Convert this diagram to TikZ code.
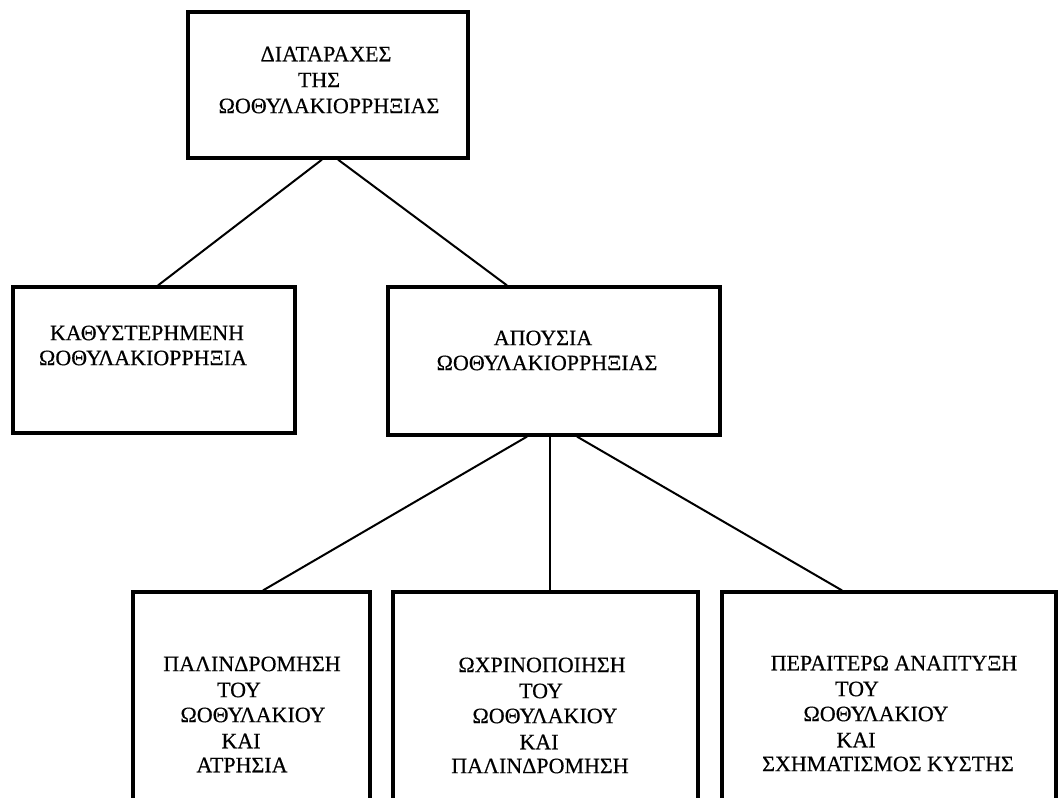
\documentclass[tikz,border=0pt]{standalone}
\usepackage{fontspec}
\setmainfont{Liberation Serif}[FakeBold=0.4]
\begin{document}
\begin{tikzpicture}[x=1pt,y=-1pt,
  box/.style={draw, line width=3.2pt, inner sep=0pt, minimum width=#1},
  conn/.style={draw, line width=2pt},
  txt/.style={inner sep=0pt, font=\fontsize{22}{26}\selectfont}]
\useasboundingbox (0,0) rectangle (1058,798);
\clip (0,0) rectangle (1058,798);
\fill[white] (0,0) rectangle (1058,798);
% boxes
\node[box=280, minimum height=146] (top) at (328,85) {};
\node[box=282, minimum height=146] (lft) at (154,360) {};
\node[box=332, minimum height=148] (mid) at (554,361) {};
\node[box=237, minimum height=212] (b1) at (251.5,698) {};
\node[box=305, minimum height=212] (b2) at (545.5,698) {};
\node[box=334, minimum height=212] (b3) at (889,698) {};
% connectors
\draw[conn] ([xshift=-6pt]top.south) -- ([xshift=4pt]lft.north);
\draw[conn] ([xshift=10pt]top.south) -- ([xshift=-47pt]mid.north);
\draw[conn] ([xshift=-27pt]mid.south) -- ([xshift=11.5pt]b1.north);
\draw[conn] ([xshift=-4pt]mid.south) -- ([xshift=4.5pt]b2.north);
\draw[conn] ([xshift=23pt]mid.south) -- ([xshift=-47pt]b3.north);
% texts
\node[txt] (t1) at (326,54) {ΔΙΑΤΑΡΑΧΕΣ};
\node[txt] (t2) at (319,80) {ΤΗΣ};
\node[txt] (t3) at (329,106) {ΩΟΘΥΛΑΚΙΟΡΡΗΞΙΑΣ};
\node[txt] (l1) at (147,333) {ΚΑΘΥΣΤΕΡΗΜΕΝΗ};
\node[txt] (l2) at (143,358) {ΩΟΘΥΛΑΚΙΟΡΡΗΞΙΑ};
\node[txt] (m1) at (543,338) {ΑΠΟΥΣΙΑ};
\node[txt] (m2) at (547,363) {ΩΟΘΥΛΑΚΙΟΡΡΗΞΙΑΣ};
\node[txt] (p1) at (252,664) {ΠΑΛΙΝΔΡΟΜΗΣΗ};
\node[txt] (p2) at (239,690) {ΤΟΥ};
\node[txt] (p3) at (253,715) {ΩΟΘΥΛΑΚΙΟΥ};
\node[txt] (p4) at (241,741) {ΚΑΙ};
\node[txt] (p5) at (242,765) {ΑΤΡΗΣΙΑ};
\node[txt] (q1) at (542,665) {ΩΧΡΙΝΟΠΟΙΗΣΗ};
\node[txt] (q2) at (541,691) {ΤΟΥ};
\node[txt] (q3) at (545,716) {ΩΟΘΥΛΑΚΙΟΥ};
\node[txt] (q4) at (539,742) {ΚΑΙ};
\node[txt] (q5) at (540,766) {ΠΑΛΙΝΔΡΟΜΗΣΗ};
\node[txt] (r1) at (894,663) {ΠΕΡΑΙΤΕΡΩ ΑΝΑΠΤΥΞΗ};
\node[txt] (r2) at (857,689) {ΤΟΥ};
\node[txt] (r3) at (876,714) {ΩΟΘΥΛΑΚΙΟΥ};
\node[txt] (r4) at (856,740) {ΚΑΙ};
\node[txt] (r5) at (888,764) {ΣΧΗΜΑΤΙΣΜΟΣ ΚΥΣΤΗΣ};
\end{tikzpicture}
\end{document}
